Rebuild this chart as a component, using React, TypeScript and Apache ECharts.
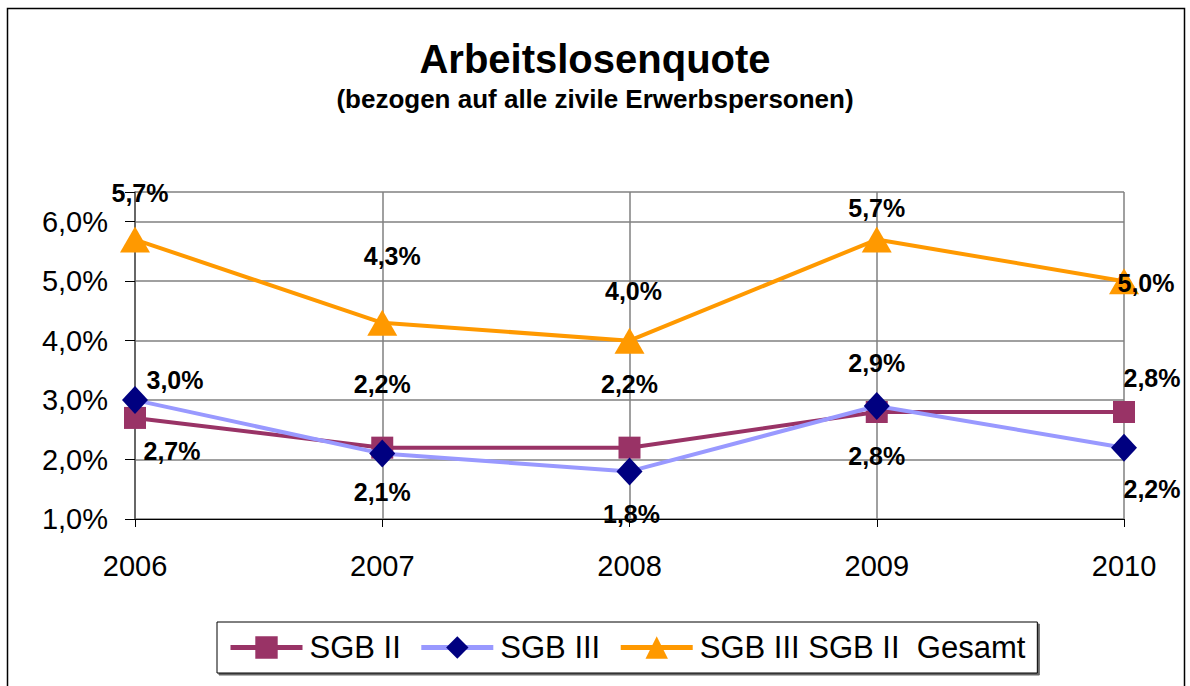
import React, { useEffect, useRef } from "react";
import * as echarts from "echarts";

const categories = ["2006", "2007", "2008", "2009", "2010"];
const sgb2 = [2.7, 2.2, 2.2, 2.8, 2.8];
const sgb3 = [3.0, 2.1, 1.8, 2.9, 2.2];
const gesamt = [5.7, 4.3, 4.0, 5.7, 5.0];
const seriesNames = ["SGB II", "SGB III", "SGB III SGB II  Gesamt"];

const offsetsSgb2 = [[37, 33], [0, -64], [0, -64], [0, 44], [28, -34]];
const offsetsSgb3 = [[40, -20], [0, 38], [2, 43], [0, -43], [28, 41]];
const offsetsGes = [[5, -47], [10, -67], [4, -50], [0, -32], [22, 2]];

const FONT = "Liberation Sans, Arial, sans-serif";
const fmt = (v: number) => v.toFixed(1).replace(".", ",") + "%";

function build(values: number[], offsets: number[][]) {
  return values.map((v, i) => ({ value: v, label: { offset: offsets[i] } }));
}

export default function App() {
  const ref = useRef<HTMLDivElement>(null);
  useEffect(() => {
    document.body.style.margin = "0";
    const chart = echarts.init(ref.current!, null, { renderer: "svg" });
    const label = {
      show: true,
      position: "inside",
      color: "#000",
      fontFamily: FONT,
      fontWeight: "bold",
      fontSize: 25,
      formatter: (p: any) => fmt(p.value),
    };
    chart.setOption({
      animation: false,
      backgroundColor: "#fff",
      title: {
        text: "Arbeitslosenquote",
        subtext: "(bezogen auf alle zivile Erwerbspersonen)",
        left: "center",
        top: 34,
        itemGap: 7,
        textStyle: { fontFamily: FONT, fontWeight: "bold", fontSize: 40, color: "#000" },
        subtextStyle: { fontFamily: FONT, fontWeight: "bold", fontSize: 26, color: "#000" },
      },
      graphic: [
        {
          type: "rect",
          shape: { x: 7.5, y: 8.5, width: 1177, height: 700 },
          style: { fill: "none", stroke: "#000", lineWidth: 1.5 },
          silent: true,
        },
      ],
      legend: {
        data: seriesNames,
        left: 217,
        top: 622,
        padding: [10, 12, 10, 11],
        itemGap: 18,
        itemWidth: 72,
        itemHeight: 28,
        borderColor: "#000",
        borderWidth: 1,
        backgroundColor: "#fff",
        shadowColor: "rgba(0,0,0,0.6)",
        shadowOffsetX: 2,
        shadowOffsetY: 2,
        shadowBlur: 0,
        lineStyle: { width: 5 },
        textStyle: { fontFamily: FONT, fontSize: 31, color: "#000", padding: [0, 0, 0, 2] },
      },
      grid: { left: 135, right: 66, top: 192, bottom: 167 },
      xAxis: {
        type: "category",
        data: categories,
        boundaryGap: false,
        axisLine: { lineStyle: { color: "#000", width: 1 } },
        axisTick: { show: true, length: 8, lineStyle: { color: "#000" } },
        axisLabel: { fontFamily: FONT, fontSize: 29, color: "#000", margin: 32 },
        splitLine: { show: true, lineStyle: { color: "#808080", width: 1.5 } },
      },
      yAxis: {
        type: "value",
        min: 1,
        max: 6.5,
        interval: 1,
        axisLine: { show: true, lineStyle: { color: "#555", width: 1.5 } },
        axisTick: { show: true, length: 10, lineStyle: { color: "#000" } },
        axisLabel: {
          fontFamily: FONT,
          fontSize: 29,
          color: "#000",
          margin: 27,
          formatter: (v: number) => (Math.abs(v - Math.round(v)) < 1e-6 ? fmt(v) : ""),
        },
        splitLine: { show: true, lineStyle: { color: "#808080", width: 1.5 } },
      },
      series: [
        {
          name: seriesNames[0],
          type: "line",
          data: build(sgb2, offsetsSgb2),
          symbol: "rect",
          symbolSize: 22,
          lineStyle: { color: "#993366", width: 4 },
          itemStyle: { color: "#993366" },
          label,
          z: 3,
        },
        {
          name: seriesNames[1],
          type: "line",
          data: build(sgb3, offsetsSgb3),
          symbol: "diamond",
          symbolSize: [26, 28],
          lineStyle: { color: "#9999FF", width: 4 },
          itemStyle: { color: "#000080" },
          label,
          z: 4,
        },
        {
          name: seriesNames[2],
          type: "line",
          data: build(gesamt, offsetsGes),
          symbol: "triangle",
          symbolSize: [30, 26],
          lineStyle: { color: "#FF9900", width: 4 },
          itemStyle: { color: "#FF9900" },
          label,
          z: 5,
        },
      ],
    });
    return () => chart.dispose();
  }, []);
  return <div ref={ref} style={{ width: 1190, height: 686 }} />;
}
